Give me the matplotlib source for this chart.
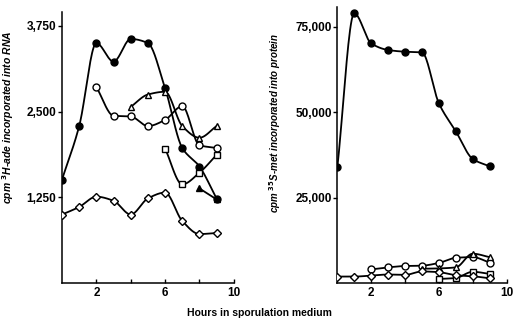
import numpy as np
import matplotlib
matplotlib.use("Agg")
import matplotlib.pyplot as plt
from matplotlib.ticker import FuncFormatter

plt.rcParams["font.family"] = ["Liberation Sans", "DejaVu Sans"]

# left panel: 3H-ade into RNA
rna_filled_x = [0, 1, 2, 3, 4, 5, 6, 7, 8, 9]
rna_filled_y = [1510, 2290, 3500, 3230, 3560, 3500, 2840, 1970, 1700, 1230]
rna_open_x = [2, 3, 4, 5, 6, 7, 8, 9]
rna_open_y = [2860, 2440, 2430, 2290, 2380, 2580, 2010, 1970]
rna_tri_x = [4, 5, 6, 7, 8, 9]
rna_tri_y = [2570, 2750, 2790, 2290, 2120, 2290]
rna_sq_x = [6, 7, 8, 9]
rna_sq_y = [1960, 1440, 1610, 1870]
rna_ftri_x = [8, 9]
rna_ftri_y = [1380, 1220]
rna_dia_x = [0, 1, 2, 3, 4, 5, 6, 7, 8, 9]
rna_dia_y = [1000, 1110, 1260, 1200, 1000, 1235, 1320, 905, 715, 730]

# right panel: 35S-met into protein
pro_filled_x = [0, 1, 2, 3, 4, 5, 6, 7, 8, 9]
pro_filled_y = [33900, 79000, 70200, 68250, 67750, 67550, 52650, 44450, 36350, 34200]
pro_open_x = [2, 3, 4, 5, 6, 7, 8, 9]
pro_open_y = [4000, 4600, 5000, 5100, 5900, 7400, 7600, 6000]
pro_tri_x = [5, 6, 7, 8, 9]
pro_tri_y = [4200, 4300, 4600, 8600, 7600]
pro_sq_x = [6, 7, 8, 9]
pro_sq_y = [1200, 1500, 3300, 2700]
pro_dia_x = [0, 1, 2, 3, 4, 5, 6, 7, 8, 9]
pro_dia_y = [1900, 1900, 2200, 2500, 2400, 3400, 3200, 2300, 2000, 1400]


def smooth(xs, ys, n=20):
    # monotone cubic (Fritsch-Carlson) path through the points, drawing only
    x = np.asarray(xs, float)
    y = np.asarray(ys, float)
    if len(x) < 3:
        return x, y
    h = np.diff(x)
    d = np.diff(y) / h
    m = np.zeros_like(y)
    m[0], m[-1] = d[0], d[-1]
    for i in range(1, len(x) - 1):
        if d[i - 1] * d[i] > 0:
            w1 = 2 * h[i] + h[i - 1]
            w2 = h[i] + 2 * h[i - 1]
            m[i] = (w1 + w2) / (w1 / d[i - 1] + w2 / d[i])
    t = np.linspace(0, 1, n, endpoint=False)
    out_x, out_y = [], []
    for i in range(len(x) - 1):
        h00 = 2 * t ** 3 - 3 * t ** 2 + 1
        h10 = t ** 3 - 2 * t ** 2 + t
        h01 = -2 * t ** 3 + 3 * t ** 2
        h11 = t ** 3 - t ** 2
        out_x.extend(x[i] + t * h[i])
        out_y.extend(h00 * y[i] + h10 * h[i] * m[i] + h01 * y[i + 1] + h11 * h[i] * m[i + 1])
    out_x.append(x[-1])
    out_y.append(y[-1])
    return np.array(out_x), np.array(out_y)


def series(ax, xs, ys, marker, filled, ms=5):
    sx, sy = smooth(xs, ys)
    ax.plot(sx, sy, color="black", lw=1.3, zorder=2)
    ax.plot(xs, ys, linestyle="none", marker=marker, ms=ms,
            markerfacecolor="black" if filled else "white",
            markeredgecolor="black", markeredgewidth=1.0, zorder=3)


def style(ax, ymax, yticks):
    ax.set_xlim(0, 10)
    ax.set_ylim(0, ymax)
    ax.spines["top"].set_visible(False)
    ax.spines["right"].set_visible(False)
    ax.spines["left"].set_linewidth(1.1)
    ax.spines["bottom"].set_linewidth(1.1)
    ax.set_xticks([2, 4, 6, 8, 10])
    ax.set_xticklabels(["2", "", "6", "", "10"])
    ax.set_yticks(yticks)
    ax.yaxis.set_major_formatter(FuncFormatter(lambda v, p: f"{int(v):,}"))
    ax.tick_params(axis="x", direction="in", length=3, width=1, pad=3)
    ax.tick_params(axis="y", direction="out", length=3, width=1, pad=1)
    for lab in ax.get_xticklabels() + ax.get_yticklabels():
        lab.set_fontweight("bold")
        lab.set_fontsize(8.5)


fig = plt.figure(figsize=(5.19, 3.25), dpi=100)
ax1 = fig.add_axes([0.1195, 0.129, 0.331, 0.834])
ax2 = fig.add_axes([0.650, 0.129, 0.326, 0.849])

series(ax1, rna_filled_x, rna_filled_y, "o", True)
series(ax1, rna_open_x, rna_open_y, "o", False)
series(ax1, rna_tri_x, rna_tri_y, "^", False)
series(ax1, rna_sq_x, rna_sq_y, "s", False, ms=4.5)
series(ax1, rna_ftri_x, rna_ftri_y, "^", True)
series(ax1, rna_dia_x, rna_dia_y, "D", False, ms=4.5)
style(ax1, 3953, [1250, 2500, 3750])
ax1.set_ylabel("cpm $\\mathbf{^3}$H-ade incorporated into RNA",
               fontsize=7.5, fontweight="bold", fontstyle="italic")
ax1.yaxis.set_label_coords(-0.27, 0.61)

series(ax2, pro_filled_x, pro_filled_y, "o", True)
series(ax2, pro_open_x, pro_open_y, "o", False)
series(ax2, pro_tri_x, pro_tri_y, "^", False)
series(ax2, pro_sq_x, pro_sq_y, "s", False, ms=4.5)
series(ax2, pro_dia_x, pro_dia_y, "D", False, ms=4.5)
style(ax2, 80800, [25000, 50000, 75000])
ax2.set_ylabel("cpm $\\mathbf{^{35}}$S-met incorporated into protein",
               fontsize=7, fontweight="bold", fontstyle="italic")
ax2.yaxis.set_label_coords(-0.32, 0.58)

fig.text(0.5, 0.037, "Hours in sporulation medium", ha="center", va="center",
         fontsize=7.5, fontweight="bold")

fig.savefig("out.png", dpi=100)
